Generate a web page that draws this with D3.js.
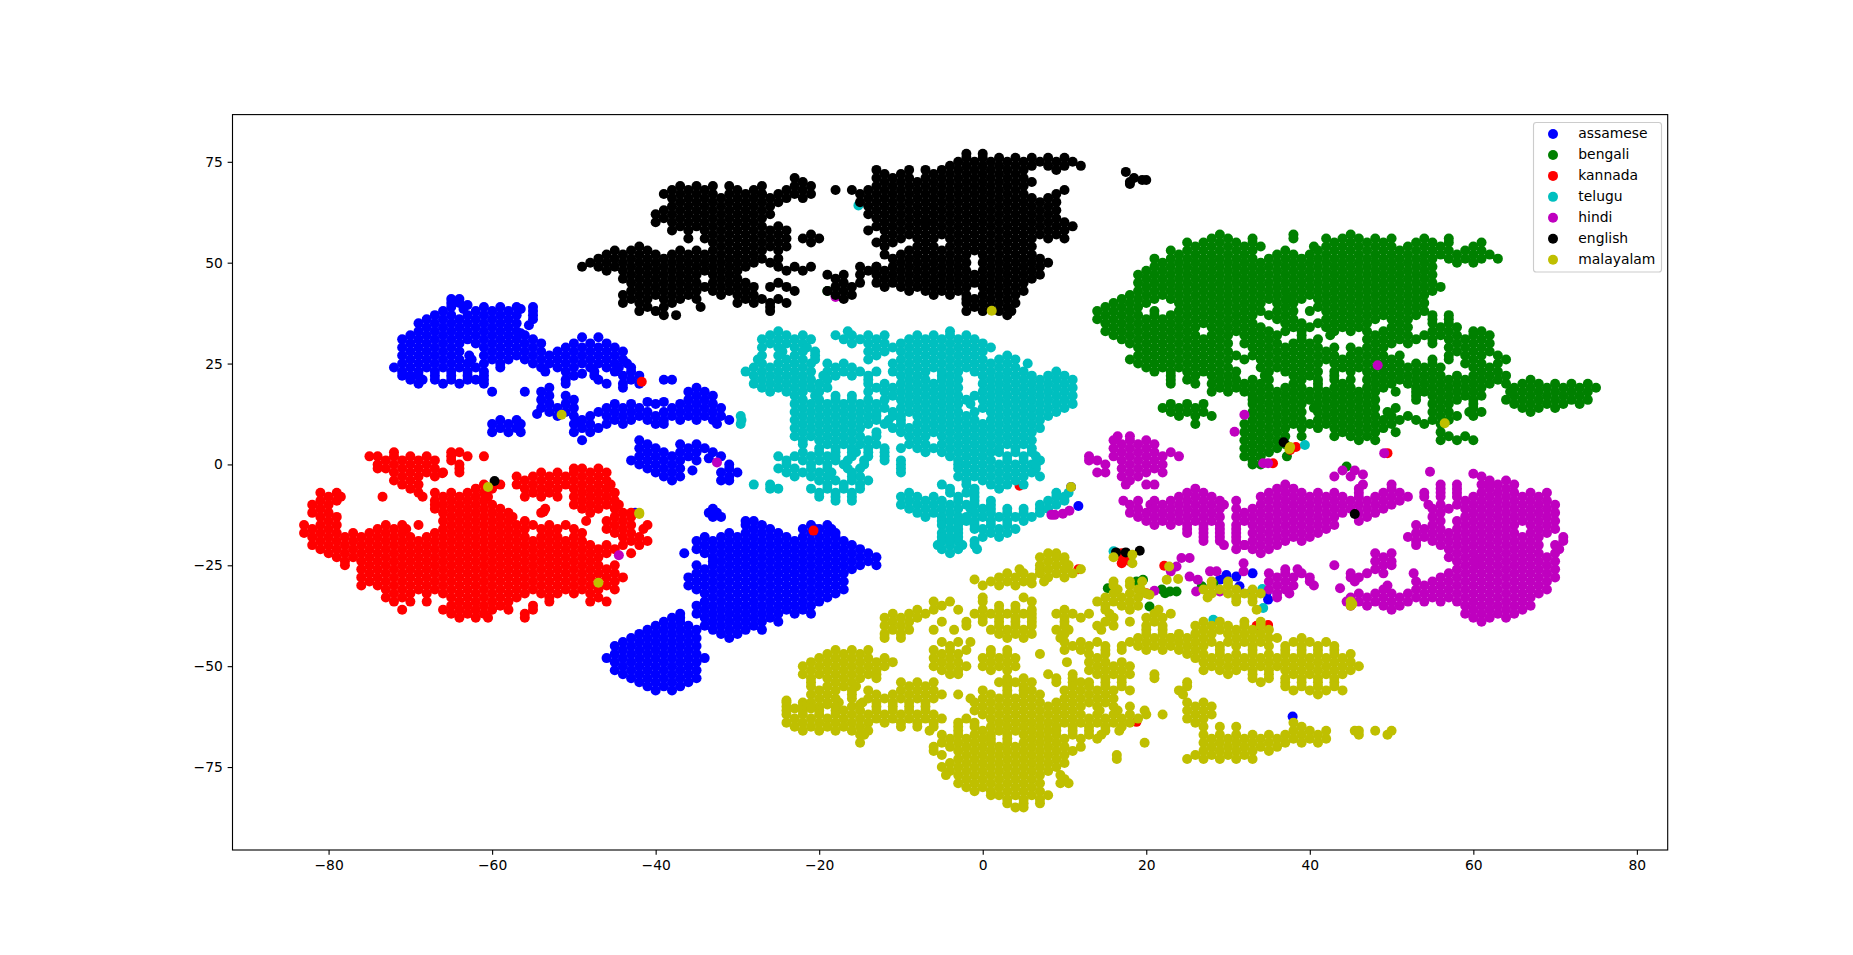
<!DOCTYPE html>
<html>
  <head>
    <meta charset="utf-8">
    <title>t-SNE of language samples</title>
    <script src="https://d3js.org/d3.v7.min.js"></script>
    <style>
      body { margin: 0; background: #fff; }
      text { font-family: "DejaVu Sans", sans-serif; font-size: 13.89px; fill: #000; }
    </style>
  </head>
  <body>
    <svg id="chart" width="1853" height="955"></svg>
    <script>
      // values, each row is [y, x, x, x, ...]
      const xTicks = [-80, -60, -40, -20, 0, 20, 40, 60, 80];
      const yTicks = [-75, -50, -25, 0, 25, 50, 75];
      const languages = ["assamese", "bengali", "kannada", "telugu", "hindi", "english", "malayalam"];
      const colours = ["#0000ff", "#008000", "#ff0000", "#00bfbf", "#bf00bf", "#000000", "#bfbf00"];

      const assamese = [
        [41,-65,-64],[40,-65,-64],[39,-65,-61,-59,-57,-55],[38,-66,-62,-60,-58,-55],
        [37,-67,-65,-63,-61,-59,-57,-55],[36,-68,-66,-64,-62,-60,-58,-55],[35,-69,-67,-65,-63,-61,-59,-57],[34,-68,-66,-64,-62,-60,-58],
        [33,-69,-67,-65,-63,-61,-59,-57],[32,-70,-68,-66,-64,-62,-60,-58,-56],[31,-71,-69,-67,-65,-63,-61,-59,-57,-55],
        [30,-70,-68,-66,-64,-62,-60,-58,-56,-54,-50,-48,-46],[29,-71,-69,-67,-65,-61,-59,-57,-55,-51,-49,-47,-45],
        [28,-70,-68,-66,-64,-60,-58,-56,-54,-52,-50,-48,-46,-44],[27,-71,-69,-67,-65,-61,-59,-57,-55,-53,-51,-49,-47,-45],
        [26,-70,-68,-66,-64,-60,-58,-56,-54,-52,-50,-48,-46,-44],[25,-71,-69,-67,-65,-63,-61,-59,-55,-53,-51,-49,-47,-45],
        [24,-72,-70,-68,-66,-64,-62,-59,-54,-52,-50,-48,-46,-43],[23,-71,-69,-67,-65,-63,-53.5,-51,-47.5,-45,-43],
        [22,-71,-69,-67,-65,-63,-61,-50,-47.5,-44,-42],[21,-67,-65,-63,-61,-51,-47,-43,-39,-38],[20,-69,-66,-64,-61,-51,-46,-44,-42],
        [19,-53,-44,-35],[18,-60,-56,-54,-36,-34],[17,-53,-51,-35,-33],[16,-54,-50,-36,-34],
        [15,-53,-51,-45,-43,-40,-37,-35,-33],[14,-54,-52,-50,-46,-44,-42,-38,-36,-34,-32],
        [13,-53,-51,-47,-45,-43,-41,-39,-37,-35,-33],[12,-52,-50,-48,-46,-44,-42,-40,-38,-36,-34,-32],
        [11,-59,-57,-49,-45,-43,-41,-39,-37,-35,-33,-31],[10,-60,-58,-56.5,-50,-48,-46,-44,-40,-39,-32.5],
        [9,-59,-57,-49,-47],[8,-60,-58,-56.5,-50,-48],[6,-49,-42],[5,-41,-37,-35],[4,-42,-40,-36,-34],
        [3,-41,-37,-35,-33],[2,-42,-40,-38,-36,-32],[1,-43,-41,-39,-37,-35],[0,-42,-40,-38,-31],
        [-1,-41,-39,-37,-31],[-2,-40,-38,-32,-30],[-3,-39,-37,-31],[-4,-38,-32,-31],
        [-11,-33],[-12,-33.5,-32.5],[-13,-33,-32],
        [-14,-29,-28],[-15,-29,-27,-21,-19],[-16,-28,-26,-22,-20.5,-20,-18.5],[-17,-31,-29,-27,-25,-21,-19,-18],
        [-18,-34,-32,-30,-28,-26,-24,-22,-20,-18],[-19,-35,-33,-31,-29,-27,-25,-23,-21,-19,-17],
        [-20,-34,-32,-30,-28,-26,-24,-22,-20,-18,-16],[-21,-35,-33,-31,-29,-27,-25,-23,-21,-19,-17,-15],
        [-22,-36.5,-34,-32,-30,-28,-26,-24,-22,-20,-18,-16,-14],[-23,-33,-31,-29,-27,-25,-23,-21,-19,-17,-15,-13],
        [-24,-33,-32,-30,-28,-26,-24,-22,-20,-18,-16,-14],[-25,-35,-33,-31,-29,-27,-25,-23,-21,-19,-17,-15,-13],
        [-26,-34,-32,-30,-28,-26,-24,-22,-20,-18,-16],[-27,-35,-33,-31,-29,-27,-25,-23,-21,-19,-17],
        [-28,-36,-34,-32,-30,-28,-26,-24,-22,-20,-18],[-29,-35,-33,-31,-29,-27,-25,-23,-21,-19,-17],
        [-30,-36,-34,-32,-30,-28,-26,-24,-22,-20,-18],[-31,-35,-33,-31,-29,-27,-25,-23,-21,-19,-17],
        [-32,-34,-32,-30,-28,-26,-24,-22,-20,-18],[-33,-33,-31,-29,-27,-25,-23,-21,-19],
        [-34,-34,-32,-30,-28,-26,-24,-22,-20],[-35,-35,-33,-31,-29,-27,-25,-23,-21],
        [-36,-34,-32,-30,-28,-26,-24,-22],[-37,-35,-33,-31,-29,-27,-25,-23,-21],[-38,-34,-32,-30,-28,-26],
        [-39,-33,-31,-29,-27,-25],[-40,-34,-32,-30,-28],[-41,-33,-31,-29,-27],[-42,-32,-30],[-43,-31],
        [-37,-37],[-38,-38,-37],[-39,-39,-37],[-40,-40,-38,-36],[-41,-41,-39,-37,-35],[-42,-42,-40,-38,-36],
        [-43,-43,-41,-39,-37,-35],[-44,-44,-42,-40,-38,-36],[-45,-45,-43,-41,-39,-37,-35],[-46,-44,-42,-40,-38,-36],
        [-47,-45,-43,-41,-39,-37,-35],[-48,-46,-44,-42,-40,-38,-36,-34],[-49,-45,-43,-41,-39,-37,-35],
        [-50,-44,-42,-40,-38,-36],[-51,-45,-43,-41,-39,-37,-35],[-52,-44,-42,-40,-38,-36],[-53,-43,-41,-39,-37,-35],
        [-54,-42,-40,-38,-36],[-55,-41,-39,-37],[-56,-40,-38],
        [-5.6,10.8],[-10.3,11.7],[-62.5,37.9],[-12,-42.5],[-27,33],[-27.8,31],[-30.2,31.4],[-27.4,29.8],[-28.6,29],[-31.9,34.7],[-33.5,34.9],
        [39.5,-63],[38.5,-63.5,-56.5],[34.5,-55.5],[32.5,-56.5],[23,-61],[22,-70],[21,-70,-68.5,-62],[26,-62.5],[27,-62.8],
        [31.5,-49,-47],[25,-43.5],[24,-44.5],[22.5,-49],[15.5,-41,-39],[12.5,-54.5],[10.5,-49.5],[3,-39],[1.5,-33.5],[-1.5,-35.5]
      ];

      const bengali = [
        [57,29,38,45],[56,28,30,33,38,42,44,46,48,50,54,57],
        [55,25,27,29,31,33,43,45,47,49,53,55,57,61],[54,26,28,30,32,34,40.5,42,44,46,48,50,52,54,56,60],
        [53,23,25,27,29,31,33,37,41,43,45,47,49,51,53,55,57,59,61],[52,24,26,28,30,32,36,38,40,42,44,46,48,50,52,54,56,58,60,62],
        [51,21,23,25,27,29,31,33,35,37,39,41,43,45,47,49,51,53,55,57,59,61,63],[50,22,24,26,28,30,32,34,36,38,40,42,44,46,48,50,52,54,58,60],
        [49,21,23,25,27,29,31,33,35,37,39,41,43,45,47,49,51,53,55],[48,20,22,24,26,28,30,32,34,36,38,40,42,44,46,48,50,52,54],
        [47,19,21,23,25,27,29,31,33,35,37,39,41,43,45,47,49,51,53,55],[46,20,22,24,26,28,30,32,34,36,38,40,42,44,46,48,50,52,54],
        [45,19,21,23,25,27,29,31,33,35,37,39,41,43,45,47,49,51,53,55],[44,20,22,24,26,28,30,32,34,36,38,40,42,44,46,48,50,52,54,56],
        [43,19,21,23,25,27,29,31,33,35,37,39,41,43,45,47,49,51,53,55],[42,18,20,22,24,26,28,30,32,34,36,38,40,42,44,46,48,50,52,54],
        [41,17,19,21,23,25,27,29,31,33,35,37,39,41,43,45,47,49,51,53],[40,16,18,20,24,26,28,30,32,34,36,38,42,44,46,48,50,52,54],
        [39,15,17,19,25,27,29,31,33,37,41,43,45,47,49,51,53],[38,14,16,18,24,26,28,30,32,34,36,38,40,42,44,46,48,50,52,54],
        [37,15,17,19,21,23,25,27,29,31,33,37,43,45,47,49,51,53,55,57],[36,14,16,18,20,22,24,26,28,30,32,36,38,42,44,46,48,50,52,55,57],
        [35,15,17,19,21,23,25,27,29,31,33,37,39,41,43,45,47,51,55,57],[34,16,18,20,22,24,26,28,30,32,34,38,40,42,44,46,50,52,56,58],
        [33,15,17,19,21,23,25,29,31,33,37,39,43,45,49,51,55,57,60,61],[32,16,18,20,22,24,26,28,30,32,34,36,39,42.5,48,50,52,54,56,58,60,62],
        [31,17,19,21,23,25,27,29,33,35,39,49,51,53,57,59,61],[30,18,20,22,24,26,28,30,32,34,36,38,40,48,50,52,55,58,60,62],
        [29,19,21,23,25,27,29,35,39,41,43,45,47,49,57,59,61],[28,20,22,24,26,28,30,34,36,38,40,42,46,48,58,60,62],
        [27,19,21,23,25,27,29,31,35,37,39,41,43,47,49,51,57,59,61,63],[26,18,20,22,24,26,28,30,32,34,36,38,40,42,44,46,48,50,55,57,60,64],
        [25,19,21,23,25,27,29,35,37,39,41,43,45,47,49,51,53,55,59,61,63],[24,20,22,24,26,28,30,34,36,38,40,44,46,48,50,52,54,56,60,62],
        [23,21,23,25,27,29,31,35,37,39,41,45,47,49,51,53,55,61,63],[22,23,26,28,30,34.5,38,40,43,48,50,52,54,56,58,60,62,64],
        [21,23,25,29,31,33,39,43,45,47,49,51,53,55,57,59,61,63],[20,23,26,28,30,32,34,38,41,44,48,50,52,54,56,58,60,62,64],
        [19,29,31,33,35,39,41,45,47,53,55,57,61],[18,28,30,32,34,38,40,42,44,46,48,50.5,53,54,56,58,60],
        [17,33,35,37,39,41,45,53,55,57,59,61],[16,33,34,38,40,42,44,46,53,56,58,60],
        [15,23,25,27,33,35,37,43,45,55,57,60],[14,22,24,26,34,36,38,40.5,44,46,50.5,56,60],
        [13,23,25,27,33,35,37,43,45,47,49.5,55,57,59.5,61],[12,24,26,28,34,36,38,44,46,48,52,56,58,60],
        [11,33,35,37,39,43,45,47,49,53,55,57],[10,26,32,34,38,40,44,46,48,54,56],
        [9,33,35,37,43,45,47,49],[8,32,34,36,44,46,48,50.5,56],[7,33,35,37,45,47,57,59],[6,32,34,36,46,48,56,58,60],
        [5,33,35,37],[4,32,34,36],[3,33,35],[2,32,34,37.2],[1,33],[0,33,34],
        [21,67],[20,66,68,70,72,74],[19,65,67,69,71,73,75],[18,64.5,66,68,70,72,74],[17,65,67,69,71,73],[16,64,66,68,70,72,74],[15,65,67,69,71,73],[14,66,68,70],[13,67],
        [43,-19],[-0.5,44.5],[-29,18.8],[-28.6,19.6],[-31.5,22.9,23.7],[-31.9,22.3],[-31,21.9],[-30.7,15.3],[-30.2,26.8],[-29.5,28.2],[-35.2,20.4],
        [41,37.5],[38,21],[37,35],[33,35,47],[31,41,47,55],[29,33,37],[27,33,45],[23,43],[21,35,41],[19,37,43,49,59],[17,43,47],[15,39,41,47],[13,39,41],[11,41,51],
        [9,39,41],[7,39,43],[18,36],[16,36,48],[14,42,48],[12,42,50],[10,36,42,50]
      ];

      const kannada = [
        [3,-72,-65,-64],[2,-75,-74,-72,-70,-68,-65,-63,-61],[1,-73,-71,-69,-67,-65],[0,-74,-72,-70,-68,-64],
        [-1,-74,-73,-71,-69,-67,-64,-50,-49,-47],[-2,-72,-70,-68,-66,-64,-54,-52,-50,-48,-46],
        [-3,-71,-69,-57,-55,-53,-51,-49,-47],[-4,-70,-56,-54,-52,-50,-48,-46],
        [-5,-71,-69,-61,-59,-57,-55,-53,-51,-49,-47,-45.5],[-6,-70,-62,-60,-56,-54,-52,-50,-48,-46],
        [-7,-81,-79,-69,-67,-63,-55,-53,-49,-47,-45],[-8,-80,-78.5,-73.4,-68.5,-66,-64,-62,-56,-54,-52,-50,-48,-46],
        [-9,-81,-79,-65,-63,-49,-47,-45],[-10,-82,-80,-67,-66,-64,-50,-48,-46,-44.5],
        [-11,-81,-67,-65,-63,-61,-59,-53.5,-49,-47,-45],[-12,-82,-80,-66,-64,-62,-60,-54,-48,-44,-43],
        [-13,-81,-79,-65,-63,-61,-59,-45,-43],[-14,-80,-66,-64,-62,-60,-58,-46,-44],
        [-15,-83,-81,-79,-73,-71,-65,-63,-61,-59,-57,-55,-53,-51,-45,-43,-41],[-16,-82,-80,-74,-72,-66,-64,-62,-60,-58,-56,-54,-52,-46,-44,-41.5],
        [-17,-83,-81,-79,-77,-75,-73,-71,-67,-65,-63,-61,-59,-57,-49,-45,-43],[-18,-82,-80,-78,-76,-74,-72,-70,-68,-66,-64,-62,-60,-58,-56,-52,-44,-42],
        [-19,-81,-79,-77,-75,-73,-71,-67,-65,-63,-59,-57,-55,-53,-51,-43,-41],[-20,-82,-80,-78,-76,-74,-72,-70,-68,-66,-64,-62,-60,-58,-56,-54,-52,-48,-46,-44,-42],
        [-21,-81,-79,-77,-75,-73,-71,-69,-67,-65,-63,-61,-59,-57,-55,-53,-51,-49,-47,-45],[-22,-80,-78,-76,-74,-72,-70,-68,-66,-64,-62,-60,-58,-56,-54,-52,-50,-48,-46,-43],
        [-23,-79,-77,-75,-73,-71,-69,-67,-65,-63,-61,-59,-57,-55,-53,-51,-49,-47],[-24,-78,-76,-74,-72,-70,-68,-66,-64,-62,-60,-58,-56,-54,-52,-50,-48],
        [-25,-78,-75,-73,-71,-69,-67,-65,-63,-61,-59,-57,-55,-53,-51,-49,-47,-45],[-26,-76,-74,-72,-70,-68,-66,-64,-62,-60,-58,-56,-54,-52,-50,-48,-46],
        [-27,-75,-73,-71,-69,-67,-65,-63,-61,-59,-57,-55,-53,-51,-49,-47,-45],[-28,-76,-74,-72,-70,-68,-66,-64,-62,-60,-58,-56,-54,-52,-50,-48,-46,-44],
        [-29,-75,-73,-71,-69,-67,-65,-63,-61,-59,-57,-55,-53,-51,-49,-47,-45],[-30,-76,-74,-72,-70,-68,-66,-64,-62,-60,-58,-56,-54,-52,-50,-48,-46],
        [-31,-73,-71,-69,-67,-65,-63,-61,-59,-57,-55,-53,-51,-49,-47,-45],[-32,-72,-70,-68,-66,-64,-62,-60,-58,-56,-54,-52,-50,-48],
        [-33,-73,-71,-65,-63,-61,-59,-57,-53,-47],[-34,-72,-70,-68,-64,-62,-60,-58,-53,-48,-46],
        [-35,-65,-63,-61,-59,-55],[-36,-71,-66,-64,-62,-60,-58,-55],[-37,-65,-63,-61,-56],[-38,-64,-62,-60.5,-56],
        [-11.7,-53.7],[-2.2,-66.1],
        [20.5,-41.7],[-16.4,-20.7],[-5.3,4.5],[-63.8,18.8],[4.3,38.3],[3.6,37.6],[0.3,35.5],[2.8,49.5],
        [-22,17],[-23.5,17.5],[-24.5,17],[-24,18],[-22.5,16.5],[-25.1,22.2],[-31.9,20],[-39.8,34.9],[-40,33.5],[-26,11.7],
        [-13,-57.5],[-15,-69],[-19,-69,-61],[-3,-67],[-9,-67,-61],[-10,-62,-60],[-8,-60.5],[-7,-65,-61],[-4,-72],[-12,-58],[-14,-56,-48.5],[-16,-70.5,-50],[-20,-50],[-18,-50,-54],[-17,-53],[-19,-49]
      ];

      const telugu = [
        [33,-25,-16.5,-4],[32,-26,-24,-22,-18,-16,-14,-12,-8,-6,-4,-2],[31,-27,-25,-23,-21,-17,-15,-13,-9,-7,-5,-3,-1],
        [30,-26,-24,-22,-16,-14,-12,-10,-8,-6,-4,-2,0],[29,-25,-21.5,-13,-11,-9,-7,-5,-3,-1,1],[28,-24.5,-22,-14,-12,-10,-8,-6,-4,-2,0],
        [27,-25,-23,-20.5,-13,-9,-7,-5,-3,-1,3],[26,-24,-20.5,-14,-10,-8,-6,-4,-2,0,2,4],
        [25,-27,-25,-23,-17,-11,-9,-7,-5,-3,-1,1,3,5.5],[24,-26,-24,-22,-18,-16,-10,-8,-6,-4,-2,0,2,4],
        [23,-27,-25,-23,-21,-19,-17,-15,-13,-11,-9,-7,-5,-3,-1,1,3,9],[22,-28,-26,-24,-22,-19.5,-18,-16,-14,-10,-8,-5,-4,0,6,8,10],
        [21,-27,-25,-23,-21,-19,-14,-9,-7,-5,-3,7,9],[20,-28,-26,-24,-22,-20,-14,-12,-10,-8,-6,-4,0,2,4,6,8,10],
        [19,-27,-25,-23,-21,-13,-11,-9,-7,-5,-3,1,3,5,7,9,11],[18,-26,-24,-22,-14,-12,-10,-8,-6,-4,0,2,4,6,8,10],
        [17,-20.5,-11,-9,-7,-5,-3,1,3,5,7,9,11],[16,-20,-12,-10,-8,-6,-4,0,2,4,6,8,10],
        [15,-21,-19,-17,-15,-9,-7,-5,-3,-1.5,1,3,5,7,9,11],[14,-22,-20,-18,-16,-14,-10,-8,-6,-4,2,4,6,8,10],
        [13,-23,-21,-19,-17,-15,-11,-9,-5,-3,-1,1,3,5,7,9],[12,-22,-20,-18,-16,-14,-13,-11,-10,-8,-6,-4,-2,2,4,6,8],
        [11,-23,-21,-19,-17,-15,-13,-10,-7,-5,-3,-1,1,3,5,7],[10,-22,-20,-18,-16,-10,-8,-6,-4,-2,0,2,4,6],
        [9,-23,-21,-19,-17,-15,-9,-7,-3,-1,1,3,5,7],[8,-22,-20,-18,-16,-10,-8,-4,-2,0,2,4,6],
        [7,-23,-21,-19,-17,-15,-13,-9,-7,-5,-3,-1,1,3,5],[6,-22,-20,-18,-16,-14,-8,-4,-2,0,2,4,6],
        [5,-22,-19,-17,-15,-7,-5,-3,-1,1,3,5],[4,-20,-18,-16,-14,-8,-6,-4,-2,0,2,4,6],
        [3,-20,-18,-14,-7,-5,-3,-1,1,4,6],[2,-25,-23,-21,-19,-16,-14,-4,-2,0,3,5,6.5],
        [1,-24,-22,-20,-18,-16.5,-14.5,-10,-3,-1,1,3,5,7],[0,-24,-21,-19,-17,-14.5,-10,-3,-2,0,2,4,6],
        [-1,-25,-23,-21,-19,-16.5,-15,-10,-3,-1,1,3,5,6.5],[-2,-18.5,-16,-10,-2,0,2,4,6],
        [-3,-19,-16,-15,-3,-1,1,3,5,7],[-4,-20,-18,-16,-2,0,2,4],
        [-5,-28,-26,-19,-17,-15,-5,-2,1,3,5],[-6,-26,-25,-21,-19,-17,-15,-4,-1,2],
        [-7,-20,-18,-16,-9,-4,-2,-1,9,10.5],[-8,-20,-18,-16,-10,-8,-6,-3,-1,9,10],
        [-9,-18,-16,-9,-7,-5,-3,-1,8,10],[-10,-8,-6,-4,-1,1,7,9],
        [-11,-7,-5,-3,0,1,7,8],[-12,-6,-4,-1,1,3,5,7],[-13,-7,-5,-3,0,2,4,6],[-14,-5,-4,-1,1,3],[-15,-5,-1,1,3],
        [-16,-4,-3,0,2,4],[-17,-5,-3,1,3],[-18,-4,-3,0,2],[-19,-5,-3,-1],[-20,-4,-2.5,-1],[-21,-5,-3,-0.7],[-22,-4],
        [64.2,-15.2],[12,-29.6],[11,-29.5],[10,-29.6],[-21.5,16],[-30.9,34.2],[-35.6,34.3],[-31.9,32.7],[-38.5,28.2],[4.8,39.4],
        [29,-27,-23],[28,-20.5],[27,-27],[26,-27.5,-22],[24,-28],[23,-29],[19,-19],[18,-20],[16,-22,-18,-16,-14],[17,-23,-18,-16],[15,-23,-13],[5,-13,-9],[4,-12,-10],
        [3,-22,-16,-12],[2,-18,-12],[1,-12],[-15,-3],[-14,-3],[-18,-5],[-19,-4],[-20,-5.5],[-10,-10,-2],[-11,-9,-1.5,3,5],[-9,1],[-13,-2],[-12,-8],[-14,-2,5],[-16,-1],
        [-2,-20,-22,-24],[-3,-21,-23],[-4,-14],[0,6.5],[3,2,-15.5],[9,-11,-5],[8,-13,-6],[10,-14,-12],[11,-11.5],[13,-7,-13],[14,-12,0],[17,-1],[16,-2],[25,-21,-19],[23,5],[22,2,4],[21,1,3,5,11]
      ];

      const hindi = [
        [7,16.5,18],[6,16,18,20],[5,17,19,21],[4,16,18,20],[3,17,19,21,23],[2,13,16,18,20,22,24],
        [1,13,14,17,19,21],[0,15,18,20,22],[-1,17,19,21],[-2,14,15,18,20,22],[-3,17,19],[-4,18],[-5,20,21],
        [-6,26],[-7,25,27],[-8,24,26,28],[-9,17.2,21,23,25,27,29],[-10,18,20.5,22,24,26,28,29.5],
        [-11,21,23,25,27,29],[-12,18,20,22,24,26,28],[-13,19,21,23,25,27,29],[-14,20,22,24,26,28],
        [-15,21,23,25,27,29,31],[-16,25,27,29,31],[-17,25,27,29,31],[-18,27,29,31],[-19,27,29,31],[-20,29.5,32],
        [-2.3,60],[-3,61],[-4,62,64],[-5,37,46.5,50,56,58,61,63,65],
        [-6,36,38,46,50,56,58,62,64],[-7,35,37,39,41,43,46,49,51,54,56,58,61,63,65,67,69],
        [-8,34,36,38,40,42,44,46,48,50,52,54,56,58,60,62,64,66,68],[-9,35,37,39,41,43,45,47,49,51,59,61,63,65,67,69],
        [-10,34,36,38,40,42,44,46,48,50,54.5,56,58,60,62,64,66,68,70],[-11,33,35,37,39,41,43,45,47,49,55,57,59,61,63,65,67,69],
        [-12,32,34,36,38,40,42,44,46,56,60,62,64,66,68,70],[-13,33,35,37,39,41,43,47,55,59,61,63,65,67,69],
        [-14,32,34,36,38,40,42,46,56,58,60,62,64,66,68,70],[-15,33,35,37,39,41,53,55,59,61,63,65,67,69],
        [-16,34,36,38,40,54,56,58,60,62,64,68,70],[-17,33,35,37,39,41,53,55,57,59,61,63,65,67,69],
        [-18,34,36,38,40,52,54,56,58,60,62,64,66,68,71],[-19,33,35,39,53,55,57,59,61,63,65,67,71],
        [-20,32,34,36,53,56,58,60,62,64,66,68,70],[-21,33,35,57,59,61,63,65,67,70.5],[-22,34,48,50,58,60,62,64,66,68,70],
        [-23,49,57,59,61,63,65,67,69],[-24,48,50,58,60,62,64,66,68,70],[-25,43,49,59,61,63,65,67,69],[-26,37,38.5,58,60,62,64,66,68,70],
        [-27,35,37,39,45,49,52.7,57,59,61,63,65,67,69],[-28,36,38,40,45,46,56,58,60,62,64,66,68,70],
        [-29,35,37,40,45.5,53,55,57,59,61,63,65,67,69],[-30,36,38,40.5,49.5,54,56,58,60,62,64,66,68],
        [-30.7,43.7],[-31,35,37,49,53,55,57,59,61,63,65,67,69],[-32,36,37.5,46,48,50,52,54,56,58,60,62,64,66,68],
        [-33,36,45,47,49,51,53,55,57,59,61,63,65,67],[-34,46,48,50,52,54,56,58,60,62,64,66],[-35,45,47,49,51,59,61,63,65,67],
        [-36,60,62,64,66],[-37,59,61,63,65],[-38,60,62,64],[-39,61],
        [-23.2,25.3,24.3],[-25.3,23.7],[-26.5,23,27.8,28.6,31.9],[-27.8,25.3],[-28.6,26.3],[-24.5,31.9],[-31.5,26.1,29],[-31.3,21],
        [24.6,48.3],[12.3,32],[8.1,30.8],[0.3,34.9,34.3],[2.8,49.1],[-22.5,-44.5],[0.5,-32.5],[41.5,-18],
        [-12.5,8.4,8.8],[-12.2,9.8],[-11.5,10.6],[-1.8,54.7],[-3,43,45],[-1.5,44,45.5],[-2.5,46.5],
        [-5,17.5,62],[-9,19,31],[-11,19,31],[-13,31],[-15,43],[-12,48],[-16,42],[-25,50],[-27,47],[-26,48],[-19,37],[-21,31],[-24,60.5],[-36,50],[-34,44.5]
      ];

      const english = [
        [76,-2,0,2,8,10],[75,-3,-1,1,3,7,9],[74,-4,-2,0,2,4,6,8,10,12],[73,-13,-9,-7,-5,-3,-1,1,3,5,9],
        [72,-12,-10,-6,-4,-2,0,2,4],[71,-13,-11,-9,-7,-5,-3,-1,1,3,5],[70,-12,-10,-8,-6,-4,-2,0,2,4,6],[69,-13,-11,-9,-7,-5,-3,-1,1,3,5],
        [68,-14,-12,-10,-8,-6,-4,-2,0,2,4,10],[67,-15,-13,-11,-9,-7,-5,-3,-1,1,3,5,9],[66,-14,-12,-10,-8,-6,-4,-2,0,2,4,6,8],
        [65,-15,-13,-11,-9,-7,-5,-3,-1,1,3,5,7,9],[64,-14,-12,-10,-8,-6,-4,-2,0,2,4,6,8],[63,-13,-11,-9,-7,-5,-3,-1,1,3,5,7,9],
        [62,-14,-12,-10,-8,-6,-4,-2,0,2,4,6,8],[61,-13,-11,-9,-3,-1,1,3,5,7,9],[60,-12,-10,-8,-6.9,-4,-2,0,2,6,8,10],
        [59,-13,-11,-3,-1,1,3,5,7,9,11],[58,-14,-12,-10,-4,-2,0,2,6,8,10],[57,-11,-3,-1,3,5,7,9],[56,-12,-4,-2,0,2,4,6,8,10],
        [55,-7,-3,1,3,5],[54,-8,-6,-4,0,2,4,6],[53,-9,-7,-3,1],[52,-10,-8,-6,-4,-2,0],[51,-11,-9,-7,-5,-3,1],[50,-10,-8,-6,-4,-2,0,2,4,6,8],
        [49,-9,-7,-5,-3,1,3,5,7],[48,-8,-6,-4,-2,0,2,4,6],[47,-13,-11,-9,-7,-5,-3,1,3,5,7],[46,-12,-10,-8,-4,-2,0,2,4],
        [45,-13,-11,-9,-7,-5,-3,1,3],[44,-12,-10,-8,-4,-2,0,2,4],[43,-5,1,3],[42,-6,-4,0,2,4],[41,-2,1,3],[40,0,2],[39,1,3],[38,-2,0,2,3.5],[37,3],
        [71,-23],[70,-22],[69,-37,-35,-33,-31,-27,-23,-21],[68,-38,-36,-34,-30,-28,-24,-22,-18,-16],
        [67,-39,-37,-35,-33,-31,-29,-27,-25,-23,-21],[66,-38,-36,-34,-32,-30,-28,-26,-24,-22],
        [65,-37,-35,-33,-31,-29,-27,-25],[64,-38,-36,-34,-32,-30,-28,-26],[63,-39,-37,-35,-33,-31,-29,-27],[62,-40,-38,-36,-34,-32,-30,-28,-26],
        [61,-39,-37,-35,-33,-31,-29,-27],[60,-40,-38,-36,-34,-32,-30,-28],[59,-37,-35,-33,-31,-29,-27,-25],[58,-38,-36,-34,-32,-30,-28,-26,-24],
        [57,-33,-31,-29,-27,-25,-21],[56,-36,-34,-32,-30,-28,-26,-24,-22,-20],[55,-31,-29,-27,-25,-21],[54,-42,-32,-30,-28,-26,-24],
        [53,-45,-43,-41,-37,-31,-29,-27,-25],[52,-46,-44,-42,-40,-38,-36,-34,-32,-30,-28],[51,-47,-45,-43,-41,-39,-37,-35,-33,-31,-29,-27],
        [50,-48,-46,-44,-42,-40,-38,-36,-34,-32,-26],[49,-49,-43,-41,-39,-37,-33,-25,-23,-21,-15,-13],[48,-44,-42,-40,-38,-36,-34,-24,-22,-14],
        [47,-43,-41,-39,-37,-33,-31,-19,-17],[46,-44,-42,-40,-38,-36,-32,-30,-18],[45,-41,-39,-37,-35,-33,-31,-29,-25,-17],
        [44,-40,-38,-36,-32,-30,-28,-26,-24,-18,-16],[43,-41,-39,-37,-35,-31,-29,-23,-19,-17],[42,-44,-42,-40,-38,-36,-32,-30,-28,-18,-16],
        [41,-43,-41,-39,-29,-27,-25,-17],[40,-44,-42,-38,-30,-28,-26,-24],[39,-41,-39,-34.5,-26],[38,-42,-40,-26],[37,-39,-37.5],
        [72.5,17.5],[71,18.5],[70.5,19.5,20],[70,18],[69.5,18],
        [-4.1,-59.7],[-12.3,45.5],[5.5,36.8],[-21.8,16.3,17.5],[-21.4,19.2],
        [77,-2,0],[76,4,6],[75,5,11],[61,-7,-5],[60,-6,4],[59,-9,-7,-5],[58,-8,-6,4],[57,-9,-7,-5,1],[56,-10,-8,-6],[55,-13,-11,-1],[54,-12,-2],[53,-5,-1,3,5],[52,-12,2,4,6],[51,3,5,7],
        [49,-11,-13],[48,-12,-10],[47,-15,-1],[46,-6,6],[45,-15,-1,5],[44,-6],[43,-9,-7,-3,5],[42,-2],[41,-1],[40,-2,4],[39,-1],
        [67,-27],[53,-35,-33],[51,-25],[55,-33],[49,-47,-45,-35],[48,-46,-32],[47,-35],[45,-43],[44,-42,-34],[50,-30,-28],[49,-31,-29],[48,-30],[43,-43,-33],[41,-37,-35]
      ];

      const malayalam = [
        [-22,8,9],[-23,7,9,10],[-24,8,10],[-25,7,9,10.5],[-26,4.5,7,8,10,12],[-27,3,5,7,9,11],[-28,2,4,6,8,10],
        [-29,1,3,5,7.5,16,18,19.5,28,30],[-30,2,4,16,18,28,30],[-31,16.5,19,27,29,31,33],[-32,16,18,20,28,30,32,34],
        [-33,0,5,15,17,19,27.5,31,33],[-34,-6,-4,0,6,14,16,18,31,33,45],[-35,-5,15,17,19,45],
        [-36,-8,-6,-3,0,2,4,6,10,15,18,21.5,33.5],[-37,-11,-9,-7,-1,1,6,9,11,13,15.5,21,23],[-38,-12,-10,-8,0,6,10,12,16,20,22],
        [-39,-11,-9,-5,-2,2,4,6,10,15,18,21,27,29,32,34],[-40,-12,-10,2,4,6,10,14,16,20,22,26,28,30,32,34],
        [-41,-11,-9,-6,-3.5,1,3,5,10.5,14.5,20,22,27,29,31,33,35],[-42,-10,2,4,10,20,22,24,26,28,30,32,34],
        [-43,-10,3,5,9.5,19,21,23,25,27,31,33,35,36,39],[-44,-5,-3,-1.5,10,12,20,22,24,26,28,30,32,34,38,40,42],
        [-45,-4,11,13,19,21,23,25,27,29,31,33,35,37,39,41,43],[-46,-18,-16,-14,-6,-4,-2,1,3,10,12,17,20,22,24,26,29,33,37,39,41,43],
        [-47,-19,-17,-15,-5,-3,1,3,13,15,25,27,29,33,35,37,39,41,43,45],[-48,-20,-18,-16,-14,-6,-4,0,2,4,14,26,28,30,34,38,40,42,44],
        [-49,-21,-19,-17,-15,-13,-5,-3,1,3,10.3,13,15,17,27,29,33,37,39,41,43,45],[-50,-22,-20,-18,-16,-14,-12,-6,-4,-2,0,2,4,14,16,18,28,34,38,40,42,44,46],
        [-51,-21,-19,-17,-15,-13,-5,-3,1,3,13,15,17,27,29,33,35,41,43],[-52,-22,-20,-18,-16,-14,-13,-3,8,11,14,16,18,21,33,35,38,40,42,44],
        [-53,-21,-19,-17,-15,-13,11,15,17,21,33,35,37,39,41,43],[-54,-21,-18,-16,-10,-8,-6,2,3,6,12,13,15,17,25,34,37,39,41,43],
        [-55,-21,-19,-17,-15.5,-9,-7,3,5,13,17,25,37,39,41],[-56,-20,-18,-16,-10,-8,-6,3,5,6,10,12,14,18,24,38,40,42],
        [-57,-21,-19,-16,-13,-11,-9,-7,-5,1,3,5,7,11,13,24.5,41],[-58,-20,-18,-12,-10,-8,-6,-1.5,2,4,6,10,12,14],
        [-59,-24,-22,-21,-17.6,-14.7,-13,-11,-9,-1,1,3,5,7,9,11,13,25,27],[-60,-24,-22,-20,-13,-11,-9,0,2,4,6,8,10,14,26,28],
        [-61,-24,-22,-20,-18,-15,-13,-11,-9,-1,1,3,5,7,9,14.3,16.5,19.8,25,27],[-62,-24,-22,-20,-18,-16,-14,-12,-10,-8,0,2,4,6,8,10,12,14,16,18,20,26,28],
        [-63,-23,-21,-19,-17,-15,-13,-11,-9,-7,-2,1,3,5,7,9,11,13,15,17,25,27],[-64,-24,-22,-20,-18,-16,-14,-12,-10,-8,-3,-1,2,4,6,8,10,12,14,16,18,26,38],
        [-65,-23,-21,-19,-17,-15,-10,-8,-3,3,5,7,9,11,13,15,27,39],[-66,-22,-20,-18,-16,-14,-6.5,-3,2,4,6,9,11,13,15,16.7,38,40,42,45.5,46,48,50],
        [-67,-15,-14.5,-5,-3,1,3,5,7,9,11,13,27,29,31,33,35,37,39,41,46,49.5],[-68,-4,1,3,6,8,10,12,14,28,30,32,34,36,38,40,42],
        [-69,-15,-5,-3,-1,1,3,5,7,9,19.8,27,29,31,33,35,37,39,41],[-70,-4,-2,0,2,4,6,8,10,28,30,32,34,36],
        [-71,-6,-3,-1,1,3,5,7,9,27,29,31,33,35],[-72,-5,-2,0,2,4,6,8,10,16.4,26,28,30,32],[-73,-3,-1,1,3,5,7,9,16.4,25,27,29,31,33],
        [-74,-4,-2,0,2,4,6,8,10],[-75,-5,-3,-1,1,3,5,7,9],[-76,-4,-2,0,2,4,6,8],[-77,-4.5,-3,-1,1,3,5,7,9.5],[-78,-2,0,2,4,6,10],
        [-79,-3,-1,1,3,5,7,9.5,10.5],[-80,-2,0,2,4,6],[-81,-1,1,3,5,7],[-82,1,2,4,6,8],[-83,3,5,7],[-84,3,5,7],[-85,4,5],
        [-12.3,-42],[12.3,-51.5],[-12,-42],[-5.6,-60.5],[-29.3,-47],[-34.6,45.2],[10.2,56.5],[3.8,37.5],[4.3,37.6],[-5.6,10.8],[38.1,1.1],
        [-23,16],[-22.4,18.3],[-24.5,18.3],[-25.3,22.8],[-28.6,22.5],[-28.4,23.9],[-30.9,19.3],[-32.3,20.4],
        [-29.5,6],[-28.5,-1],[-30,0],[-35,2,4],[-37,3,5],[-38,2,4],[-39,0],[-40,-2],[-41,9],[-42,6,-12],[-43,-12,23],[-44,14,18],[-45,15,17],[-46,15],
        [-47,31,7],[-48,-12,32,36],[-49,-11,31,35],[-50,30,32,36],[-51,31,37,39,45],[-52,-4,30],[-53,3,5,9],[-54,4,9,11],[-55,11,15,43],
        [-56,-14,0,16,44],[-57,-3,15],[-58,-16,-14,0,16],[-59,-19,-7,15],[-60,-18,-16,-7,12,16,18],[-61,-17,11,-7],[-62,-6,22],[-63,19],[-65,17,-1,1,29,31],[-66,0,8],
        [-67,-1,14.5],[-68,-2,0],[-58.5,-24],[-60.5,-23,-21],[-59.5,-19,-15],[-63,-5],[-64,-6],[-65,-6],[-70,12,-6],[-71,11]
      ];

      const seriesRows = [assamese, bengali, kannada, telugu, hindi, english, malayalam];

      function toPoints(rows) {
        return rows.flatMap(function(row) {
          return row.slice(1).map(function(x) { return [x, row[0]]; });
        });
      }

      const svg = d3.select("#chart");
      const margin = { left: 232.5, right: 1667.7, top: 114.6, bottom: 850 };
      const x = d3.scaleLinear().domain([-91.75, 83.77]).range([margin.left, margin.right]);
      const y = d3.scaleLinear().domain([-95.56, 86.7]).range([margin.bottom, margin.top]);

      // draw points, one group per language, later languages on top
      seriesRows.forEach(function(rows, i) {
        svg.append("g")
            .attr("fill", colours[i])
          .selectAll("circle")
            .data(toPoints(rows))
          .enter().append("circle")
            .attr("cx", function(d) { return x(d[0]); })
            .attr("cy", function(d) { return y(d[1]); })
            .attr("r", 5);
      });

      // axes
      const xAxis = d3.axisBottom(x).tickValues(xTicks).tickSizeOuter(0).tickSize(4.86).tickPadding(4.86);
      const yAxis = d3.axisLeft(y).tickValues(yTicks).tickSizeOuter(0).tickSize(4.86).tickPadding(4.86);
      svg.append("g").attr("transform", "translate(0," + margin.bottom + ")").call(xAxis);
      svg.append("g").attr("transform", "translate(" + margin.left + ",0)").call(yAxis);
      svg.selectAll(".domain").remove();
      svg.selectAll(".tick line").attr("stroke", "#000").attr("stroke-width", 1.11);
      svg.selectAll(".tick text").style("font-family", '"DejaVu Sans"').style("font-size", "13.89px").attr("fill", "#000");
      svg.append("rect")
        .attr("x", margin.left).attr("y", margin.top)
        .attr("width", margin.right - margin.left).attr("height", margin.bottom - margin.top)
        .attr("fill", "none").attr("stroke", "#000").attr("stroke-width", 1.11);

      // legend
      const legend = svg.append("g");
      legend.append("rect")
        .attr("x", 1533.5).attr("y", 122.5).attr("width", 128).attr("height", 149.5).attr("rx", 2.8)
        .attr("fill", "#fff").attr("fill-opacity", 0.8).attr("stroke", "#ccc").attr("stroke-width", 1.11);
      languages.forEach(function(name, i) {
        const rowY = 134 + i * 20.95;
        legend.append("circle").attr("cx", 1553).attr("cy", rowY).attr("r", 5).attr("fill", colours[i]);
        legend.append("text").attr("x", 1578.3).attr("y", rowY + 4.4).text(name);
      });
    </script>
  </body>
</html>
